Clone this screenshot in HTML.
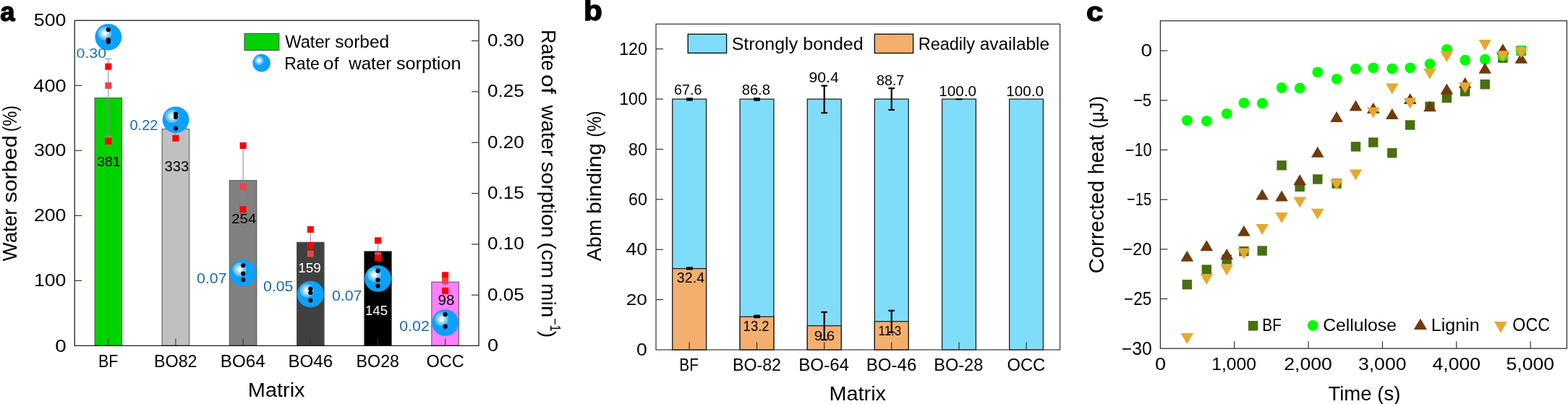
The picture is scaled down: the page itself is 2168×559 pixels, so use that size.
<!DOCTYPE html>
<html><head><meta charset="utf-8"><style>
html,body{margin:0;padding:0;background:#fff;overflow:hidden;}
svg{display:block;}
text{font-family:"Liberation Sans", Arial, sans-serif;white-space:pre;}
</style></head><body>
<svg width="2168" height="559" viewBox="0 0 2168 559">
<defs>
<radialGradient id="hl" cx="0.5" cy="0.5" r="0.5">
<stop offset="0" stop-color="#ffffff"/>
<stop offset="0.27" stop-color="#f6fcff"/>
<stop offset="0.34" stop-color="#b0e0ff"/>
<stop offset="0.58" stop-color="#a0d9ff"/>
<stop offset="0.65" stop-color="#68c4ff"/>
<stop offset="0.90" stop-color="#5cbeff"/>
<stop offset="1" stop-color="#0CA0FF"/>
</radialGradient>
</defs>
<rect width="2168" height="559" fill="#fff"/>
<rect x="131.00" y="135.40" width="37.60" height="342.90" fill="#00D200" stroke="#555" stroke-width="1"/>
<rect x="224.10" y="178.60" width="37.60" height="299.70" fill="#C0C0C0" stroke="#555" stroke-width="1"/>
<rect x="317.30" y="249.70" width="37.60" height="228.60" fill="#808080" stroke="#555" stroke-width="1"/>
<rect x="410.50" y="335.20" width="37.60" height="143.10" fill="#404040" stroke="#555" stroke-width="1"/>
<rect x="503.70" y="347.80" width="37.60" height="130.50" fill="#000000" stroke="#555" stroke-width="1"/>
<rect x="596.80" y="390.10" width="37.60" height="88.20" fill="#FF80FF" stroke="#555" stroke-width="1"/>
<line x1="149.8" y1="478.3" x2="149.8" y2="468.3" stroke="#333" stroke-width="1"/>
<line x1="242.9" y1="478.3" x2="242.9" y2="468.3" stroke="#333" stroke-width="1"/>
<line x1="336.1" y1="478.3" x2="336.1" y2="468.3" stroke="#333" stroke-width="1"/>
<line x1="429.3" y1="478.3" x2="429.3" y2="468.3" stroke="#333" stroke-width="1"/>
<line x1="522.5" y1="478.3" x2="522.5" y2="468.3" stroke="#333" stroke-width="1"/>
<line x1="615.6" y1="478.3" x2="615.6" y2="468.3" stroke="#333" stroke-width="1"/>
<line x1="149.8" y1="81.5" x2="149.8" y2="188.7" stroke="#888" stroke-width="1"/>
<line x1="145.3" y1="81.5" x2="154.3" y2="81.5" stroke="#999" stroke-width="1.2"/>
<line x1="145.3" y1="188.7" x2="154.3" y2="188.7" stroke="#999" stroke-width="1.2"/>
<line x1="242.9" y1="160" x2="242.9" y2="191" stroke="#888" stroke-width="1"/>
<line x1="336.1" y1="201.5" x2="336.1" y2="289.8" stroke="#888" stroke-width="1"/>
<line x1="429.3" y1="317.5" x2="429.3" y2="339.5" stroke="#888" stroke-width="1"/>
<line x1="522.5" y1="332.8" x2="522.5" y2="357" stroke="#888" stroke-width="1"/>
<line x1="615.6" y1="380" x2="615.6" y2="402.4" stroke="#888" stroke-width="1"/>
<rect x="145.30" y="87.60" width="9" height="9" fill="#FF0000"/>
<rect x="145.30" y="113.90" width="9" height="9" fill="#EC4444"/>
<rect x="145.30" y="190.90" width="9" height="9" fill="#FF0000"/>
<rect x="238.40" y="186.80" width="9" height="9" fill="#FF0000"/>
<rect x="331.60" y="197.00" width="9" height="9" fill="#FF0000"/>
<rect x="331.60" y="253.90" width="9" height="9" fill="#EC4444"/>
<rect x="331.60" y="285.30" width="9" height="9" fill="#FF0000"/>
<rect x="424.80" y="313.00" width="9" height="9" fill="#FF0000"/>
<rect x="424.80" y="335.00" width="9" height="9" fill="#FF0000"/>
<rect x="424.80" y="346.60" width="9" height="9" fill="#EC4444"/>
<rect x="518.00" y="328.30" width="9" height="9" fill="#FF0000"/>
<rect x="518.00" y="349.00" width="9" height="9" fill="#EC4444"/>
<rect x="518.00" y="352.60" width="9" height="9" fill="#FF0000"/>
<rect x="611.10" y="376.30" width="9" height="9" fill="#FF0000"/>
<rect x="611.10" y="384.10" width="9" height="9" fill="#EC4444"/>
<rect x="611.10" y="397.90" width="9" height="9" fill="#FF0000"/>
<circle cx="149.8" cy="51.3" r="18.4" fill="#0CA0FF"/><circle cx="144.74" cy="46.24" r="9.94" fill="url(#hl)"/>
<circle cx="149.8" cy="41.0" r="3.1" fill="#000"/>
<circle cx="149.8" cy="55.2" r="3.1" fill="#000"/>
<circle cx="149.8" cy="57.8" r="3.1" fill="#000"/>
<circle cx="243.0" cy="165.8" r="18.4" fill="#0CA0FF"/><circle cx="237.94" cy="160.74" r="9.94" fill="url(#hl)"/>
<circle cx="243.0" cy="157.7" r="3.1" fill="#000"/>
<circle cx="243.0" cy="162.0" r="3.1" fill="#000"/>
<circle cx="243.0" cy="177.6" r="3.1" fill="#000"/>
<circle cx="336.2" cy="377.9" r="18.4" fill="#0CA0FF"/><circle cx="331.14" cy="372.84" r="9.94" fill="url(#hl)"/>
<circle cx="336.2" cy="367.3" r="3.1" fill="#000"/>
<circle cx="336.2" cy="378.6" r="3.1" fill="#000"/>
<circle cx="336.2" cy="387.1" r="3.1" fill="#000"/>
<circle cx="429.3" cy="407.1" r="18.4" fill="#0CA0FF"/><circle cx="424.24" cy="402.04" r="9.94" fill="url(#hl)"/>
<circle cx="429.3" cy="399.7" r="3.1" fill="#000"/>
<circle cx="429.3" cy="405.0" r="3.1" fill="#000"/>
<circle cx="429.3" cy="415.6" r="3.1" fill="#000"/>
<circle cx="522.5" cy="385.4" r="18.4" fill="#0CA0FF"/><circle cx="517.44" cy="380.34" r="9.94" fill="url(#hl)"/>
<circle cx="522.5" cy="374.7" r="3.1" fill="#000"/>
<circle cx="522.5" cy="387.3" r="3.1" fill="#000"/>
<circle cx="522.5" cy="395.7" r="3.1" fill="#000"/>
<circle cx="615.6" cy="446.6" r="18.4" fill="#0CA0FF"/><circle cx="610.54" cy="441.54" r="9.94" fill="url(#hl)"/>
<circle cx="615.6" cy="435.0" r="3.1" fill="#000"/>
<circle cx="615.6" cy="451.7" r="3.1" fill="#000"/>
<rect x="103.2" y="28.3" width="558.8" height="450.0" fill="none" stroke="#111" stroke-width="1.2"/>
<line x1="103.2" y1="388.30" x2="113.2" y2="388.30" stroke="#333" stroke-width="1.2"/>
<line x1="103.2" y1="298.30" x2="113.2" y2="298.30" stroke="#333" stroke-width="1.2"/>
<line x1="103.2" y1="208.30" x2="113.2" y2="208.30" stroke="#333" stroke-width="1.2"/>
<line x1="103.2" y1="118.30" x2="113.2" y2="118.30" stroke="#333" stroke-width="1.2"/>
<line x1="662.0" y1="408.25" x2="652.0" y2="408.25" stroke="#333" stroke-width="1.2"/>
<line x1="662.0" y1="337.90" x2="652.0" y2="337.90" stroke="#333" stroke-width="1.2"/>
<line x1="662.0" y1="267.55" x2="652.0" y2="267.55" stroke="#333" stroke-width="1.2"/>
<line x1="662.0" y1="197.20" x2="652.0" y2="197.20" stroke="#333" stroke-width="1.2"/>
<line x1="662.0" y1="126.85" x2="652.0" y2="126.85" stroke="#333" stroke-width="1.2"/>
<line x1="662.0" y1="56.50" x2="652.0" y2="56.50" stroke="#333" stroke-width="1.2"/>
<rect x="338" y="46.4" width="47.8" height="23.2" fill="#00D200" stroke="#555" stroke-width="1.2"/>
<circle cx="361.6" cy="87.1" r="12.3" fill="#0CA0FF"/><circle cx="358.22" cy="83.72" r="6.64" fill="url(#hl)"/>
<rect x="929.70" y="137.10" width="46.8" height="346.90" fill="#80DDFA" stroke="#222" stroke-width="1.3"/>
<rect x="929.70" y="371.60" width="46.8" height="112.40" fill="#F4AF6E" stroke="#222" stroke-width="1.3"/>
<rect x="1023.10" y="137.10" width="46.8" height="346.90" fill="#80DDFA" stroke="#222" stroke-width="1.3"/>
<rect x="1023.10" y="438.21" width="46.8" height="45.79" fill="#F4AF6E" stroke="#222" stroke-width="1.3"/>
<rect x="1116.30" y="137.10" width="46.8" height="346.90" fill="#80DDFA" stroke="#222" stroke-width="1.3"/>
<rect x="1116.30" y="450.70" width="46.8" height="33.30" fill="#F4AF6E" stroke="#222" stroke-width="1.3"/>
<rect x="1209.30" y="137.10" width="46.8" height="346.90" fill="#80DDFA" stroke="#222" stroke-width="1.3"/>
<rect x="1209.30" y="444.80" width="46.8" height="39.20" fill="#F4AF6E" stroke="#222" stroke-width="1.3"/>
<rect x="1302.60" y="137.10" width="46.8" height="346.90" fill="#80DDFA" stroke="#222" stroke-width="1.3"/>
<rect x="1395.60" y="137.10" width="46.8" height="346.90" fill="#80DDFA" stroke="#222" stroke-width="1.3"/>
<line x1="953.1" y1="484.0" x2="953.1" y2="473.4" stroke="#333" stroke-width="1.2"/>
<line x1="1046.5" y1="484.0" x2="1046.5" y2="473.4" stroke="#333" stroke-width="1.2"/>
<line x1="1139.7" y1="484.0" x2="1139.7" y2="473.4" stroke="#333" stroke-width="1.2"/>
<line x1="1232.7" y1="484.0" x2="1232.7" y2="473.4" stroke="#333" stroke-width="1.2"/>
<line x1="1326.0" y1="484.0" x2="1326.0" y2="473.4" stroke="#333" stroke-width="1.2"/>
<line x1="1419.0" y1="484.0" x2="1419.0" y2="473.4" stroke="#333" stroke-width="1.2"/>
<rect x="949.10" y="135.20" width="8.8" height="4.4" fill="#000"/>
<rect x="1042.10" y="135.10" width="8.8" height="4.6" fill="#000"/>
<rect x="1321.60" y="136.30" width="8.8" height="2.0" fill="#000"/>
<rect x="949.10" y="369.30" width="8.8" height="4.2" fill="#000"/>
<rect x="1042.10" y="435.60" width="8.8" height="4.6" fill="#000"/>
<line x1="1139.7" y1="118.6" x2="1139.7" y2="156.1" stroke="#000" stroke-width="2.2"/>
<line x1="1135.4" y1="118.6" x2="1144.0" y2="118.6" stroke="#000" stroke-width="2.2"/>
<line x1="1135.4" y1="156.1" x2="1144.0" y2="156.1" stroke="#000" stroke-width="2.2"/>
<line x1="1232.7" y1="122.2" x2="1232.7" y2="152.0" stroke="#000" stroke-width="2.2"/>
<line x1="1228.4" y1="122.2" x2="1237.0" y2="122.2" stroke="#000" stroke-width="2.2"/>
<line x1="1228.4" y1="152.0" x2="1237.0" y2="152.0" stroke="#000" stroke-width="2.2"/>
<line x1="1139.7" y1="431.9" x2="1139.7" y2="470.1" stroke="#000" stroke-width="2.2"/>
<line x1="1135.4" y1="431.9" x2="1144.0" y2="431.9" stroke="#000" stroke-width="2.2"/>
<line x1="1135.4" y1="470.1" x2="1144.0" y2="470.1" stroke="#000" stroke-width="2.2"/>
<line x1="1232.7" y1="429.8" x2="1232.7" y2="459.8" stroke="#000" stroke-width="2.2"/>
<line x1="1228.4" y1="429.8" x2="1237.0" y2="429.8" stroke="#000" stroke-width="2.2"/>
<line x1="1228.4" y1="459.8" x2="1237.0" y2="459.8" stroke="#000" stroke-width="2.2"/>
<rect x="907.0" y="33.3" width="558.5999999999999" height="450.7" fill="none" stroke="#444" stroke-width="1.3"/>
<line x1="907.0" y1="414.62" x2="917.0" y2="414.62" stroke="#333" stroke-width="1.2"/>
<line x1="907.0" y1="345.24" x2="917.0" y2="345.24" stroke="#333" stroke-width="1.2"/>
<line x1="907.0" y1="275.86" x2="917.0" y2="275.86" stroke="#333" stroke-width="1.2"/>
<line x1="907.0" y1="206.48" x2="917.0" y2="206.48" stroke="#333" stroke-width="1.2"/>
<line x1="907.0" y1="137.10" x2="917.0" y2="137.10" stroke="#333" stroke-width="1.2"/>
<line x1="907.0" y1="67.72" x2="917.0" y2="67.72" stroke="#333" stroke-width="1.2"/>
<rect x="951.2" y="47.3" width="53.4" height="26.1" fill="#80DDFA" stroke="#111" stroke-width="1.4"/>
<rect x="1209.3" y="47.2" width="53.3" height="26.3" fill="#F4AF6E" stroke="#111" stroke-width="1.4"/>
<rect x="1634.60" y="387.00" width="13.4" height="13.4" fill="#476F10"/>
<rect x="1661.60" y="366.40" width="13.4" height="13.4" fill="#476F10"/>
<rect x="1689.50" y="352.30" width="13.4" height="13.4" fill="#476F10"/>
<rect x="1713.20" y="341.00" width="13.4" height="13.4" fill="#476F10"/>
<rect x="1738.50" y="340.30" width="13.4" height="13.4" fill="#476F10"/>
<rect x="1765.40" y="222.10" width="13.4" height="13.4" fill="#476F10"/>
<rect x="1790.50" y="251.70" width="13.4" height="13.4" fill="#476F10"/>
<rect x="1815.10" y="241.30" width="13.4" height="13.4" fill="#476F10"/>
<rect x="1841.40" y="247.30" width="13.4" height="13.4" fill="#476F10"/>
<rect x="1867.80" y="196.20" width="13.4" height="13.4" fill="#476F10"/>
<rect x="1892.10" y="190.30" width="13.4" height="13.4" fill="#476F10"/>
<rect x="1918.10" y="205.00" width="13.4" height="13.4" fill="#476F10"/>
<rect x="1943.00" y="166.30" width="13.4" height="13.4" fill="#476F10"/>
<rect x="1970.30" y="140.70" width="13.4" height="13.4" fill="#476F10"/>
<rect x="1993.70" y="128.80" width="13.4" height="13.4" fill="#476F10"/>
<rect x="2019.00" y="119.90" width="13.4" height="13.4" fill="#476F10"/>
<rect x="2046.50" y="110.00" width="13.4" height="13.4" fill="#476F10"/>
<rect x="2071.20" y="73.50" width="13.4" height="13.4" fill="#476F10"/>
<rect x="2096.60" y="63.40" width="13.4" height="13.4" fill="#476F10"/>
<circle cx="1641.3" cy="166.6" r="7.4" fill="#00FF00"/>
<circle cx="1668.3" cy="167.4" r="7.4" fill="#00FF00"/>
<circle cx="1696.2" cy="157.3" r="7.4" fill="#00FF00"/>
<circle cx="1719.9" cy="142.3" r="7.4" fill="#00FF00"/>
<circle cx="1745.2" cy="142.9" r="7.4" fill="#00FF00"/>
<circle cx="1772.1" cy="121.5" r="7.4" fill="#00FF00"/>
<circle cx="1797.2" cy="121.9" r="7.4" fill="#00FF00"/>
<circle cx="1821.8" cy="99.8" r="7.4" fill="#00FF00"/>
<circle cx="1848.1" cy="109.3" r="7.4" fill="#00FF00"/>
<circle cx="1874.5" cy="95.5" r="7.4" fill="#00FF00"/>
<circle cx="1898.8" cy="93.8" r="7.4" fill="#00FF00"/>
<circle cx="1924.8" cy="95.1" r="7.4" fill="#00FF00"/>
<circle cx="1949.7" cy="93.8" r="7.4" fill="#00FF00"/>
<circle cx="1977.0" cy="88.5" r="7.4" fill="#00FF00"/>
<circle cx="2000.4" cy="68.4" r="7.4" fill="#00FF00"/>
<circle cx="2025.7" cy="83.2" r="7.4" fill="#00FF00"/>
<circle cx="2053.2" cy="82.2" r="7.4" fill="#00FF00"/>
<circle cx="2077.9" cy="77.0" r="7.4" fill="#00FF00"/>
<circle cx="2103.3" cy="69.9" r="7.4" fill="#00FF00"/>
<path d="M1641.30,346.80 L1650.10,361.80 L1632.50,361.80Z" fill="#703A0C"/>
<path d="M1668.30,332.20 L1677.10,347.20 L1659.50,347.20Z" fill="#703A0C"/>
<path d="M1696.20,344.00 L1705.00,359.00 L1687.40,359.00Z" fill="#703A0C"/>
<path d="M1719.90,311.80 L1728.70,326.80 L1711.10,326.80Z" fill="#703A0C"/>
<path d="M1745.20,261.50 L1754.00,276.50 L1736.40,276.50Z" fill="#703A0C"/>
<path d="M1772.10,263.40 L1780.90,278.40 L1763.30,278.40Z" fill="#703A0C"/>
<path d="M1797.20,241.20 L1806.00,256.20 L1788.40,256.20Z" fill="#703A0C"/>
<path d="M1821.80,202.70 L1830.60,217.70 L1813.00,217.70Z" fill="#703A0C"/>
<path d="M1848.10,154.00 L1856.90,169.00 L1839.30,169.00Z" fill="#703A0C"/>
<path d="M1874.50,138.50 L1883.30,153.50 L1865.70,153.50Z" fill="#703A0C"/>
<path d="M1898.80,141.90 L1907.60,156.90 L1890.00,156.90Z" fill="#703A0C"/>
<path d="M1924.80,149.90 L1933.60,164.90 L1916.00,164.90Z" fill="#703A0C"/>
<path d="M1949.70,129.00 L1958.50,144.00 L1940.90,144.00Z" fill="#703A0C"/>
<path d="M1977.00,139.20 L1985.80,154.20 L1968.20,154.20Z" fill="#703A0C"/>
<path d="M2000.40,115.60 L2009.20,130.60 L1991.60,130.60Z" fill="#703A0C"/>
<path d="M2025.70,107.00 L2034.50,122.00 L2016.90,122.00Z" fill="#703A0C"/>
<path d="M2053.20,86.70 L2062.00,101.70 L2044.40,101.70Z" fill="#703A0C"/>
<path d="M2077.90,60.30 L2086.70,75.30 L2069.10,75.30Z" fill="#703A0C"/>
<path d="M2103.30,72.70 L2112.10,87.70 L2094.50,87.70Z" fill="#703A0C"/>
<path d="M1632.50,460.90 L1650.10,460.90 L1641.30,475.90Z" fill="#E6A92E"/>
<path d="M1659.50,379.00 L1677.10,379.00 L1668.30,394.00Z" fill="#E6A92E"/>
<path d="M1687.40,366.20 L1705.00,366.20 L1696.20,381.20Z" fill="#E6A92E"/>
<path d="M1711.10,343.60 L1728.70,343.60 L1719.90,358.60Z" fill="#E6A92E"/>
<path d="M1736.40,310.00 L1754.00,310.00 L1745.20,325.00Z" fill="#E6A92E"/>
<path d="M1763.30,294.10 L1780.90,294.10 L1772.10,309.10Z" fill="#E6A92E"/>
<path d="M1788.40,272.60 L1806.00,272.60 L1797.20,287.60Z" fill="#E6A92E"/>
<path d="M1813.00,288.70 L1830.60,288.70 L1821.80,303.70Z" fill="#E6A92E"/>
<path d="M1839.30,247.90 L1856.90,247.90 L1848.10,262.90Z" fill="#E6A92E"/>
<path d="M1865.70,234.50 L1883.30,234.50 L1874.50,249.50Z" fill="#E6A92E"/>
<path d="M1890.00,148.40 L1907.60,148.40 L1898.80,163.40Z" fill="#E6A92E"/>
<path d="M1916.00,115.50 L1933.60,115.50 L1924.80,130.50Z" fill="#E6A92E"/>
<path d="M1940.90,135.50 L1958.50,135.50 L1949.70,150.50Z" fill="#E6A92E"/>
<path d="M1968.20,94.80 L1985.80,94.80 L1977.00,109.80Z" fill="#E6A92E"/>
<path d="M1991.60,71.10 L2009.20,71.10 L2000.40,86.10Z" fill="#E6A92E"/>
<path d="M2016.90,114.10 L2034.50,114.10 L2025.70,129.10Z" fill="#E6A92E"/>
<path d="M2044.40,55.00 L2062.00,55.00 L2053.20,70.00Z" fill="#E6A92E"/>
<path d="M2069.10,70.20 L2086.70,70.20 L2077.90,85.20Z" fill="#E6A92E"/>
<path d="M2094.50,65.20 L2112.10,65.20 L2103.30,80.20Z" fill="#E6A92E"/>
<rect x="1604.4" y="28.8" width="562.0" height="453.4" fill="none" stroke="#333" stroke-width="1.3"/>
<line x1="1604.4" y1="70.10" x2="1614.4" y2="70.10" stroke="#333" stroke-width="1.2"/>
<line x1="1604.4" y1="138.78" x2="1614.4" y2="138.78" stroke="#333" stroke-width="1.2"/>
<line x1="1604.4" y1="207.47" x2="1614.4" y2="207.47" stroke="#333" stroke-width="1.2"/>
<line x1="1604.4" y1="276.15" x2="1614.4" y2="276.15" stroke="#333" stroke-width="1.2"/>
<line x1="1604.4" y1="344.84" x2="1614.4" y2="344.84" stroke="#333" stroke-width="1.2"/>
<line x1="1604.4" y1="413.52" x2="1614.4" y2="413.52" stroke="#333" stroke-width="1.2"/>
<line x1="1706.75" y1="482.2" x2="1706.75" y2="472.2" stroke="#333" stroke-width="1.2"/>
<line x1="1809.10" y1="482.2" x2="1809.10" y2="472.2" stroke="#333" stroke-width="1.2"/>
<line x1="1911.45" y1="482.2" x2="1911.45" y2="472.2" stroke="#333" stroke-width="1.2"/>
<line x1="2013.80" y1="482.2" x2="2013.80" y2="472.2" stroke="#333" stroke-width="1.2"/>
<line x1="2116.15" y1="482.2" x2="2116.15" y2="472.2" stroke="#333" stroke-width="1.2"/>
<rect x="1725.9" y="444.0" width="13.4" height="13.5" fill="#476F10"/>
<circle cx="1815.2" cy="450.3" r="7.4" fill="#00FF00"/>
<path d="M1963.9,440.7 L1973.0,456.1 L1954.7,456.1Z" fill="#703A0C"/>
<path d="M2066.0,445.1 L2083.9,445.1 L2074.95,460.8Z" fill="#E6A92E"/>
<text transform="translate(0.34,28.80) scale(0.9727,1)" font-size="37.40" font-weight="bold" stroke="#000" stroke-width="1.4" fill="#000">a</text>
<text transform="translate(46.79,36.20) scale(1.0998,1)" font-size="24.29" fill="#000">500</text>
<text transform="translate(46.32,126.50) scale(1.0972,1)" font-size="24.71" fill="#000">400</text>
<text transform="translate(46.89,216.40) scale(1.0998,1)" font-size="24.29" fill="#000">300</text>
<text transform="translate(46.89,306.40) scale(1.0998,1)" font-size="24.29" fill="#000">200</text>
<text transform="translate(46.89,396.40) scale(1.0998,1)" font-size="24.29" fill="#000">100</text>
<text transform="translate(76.16,486.60) scale(1.1497,1)" font-size="24.14" fill="#000">0</text>
<text transform="translate(674.12,64.00) scale(1.0804,1)" font-size="24.14" fill="#000">0.30</text>
<text transform="translate(674.12,134.35) scale(1.0804,1)" font-size="24.14" fill="#000">0.25</text>
<text transform="translate(674.12,204.70) scale(1.0804,1)" font-size="24.14" fill="#000">0.20</text>
<text transform="translate(674.12,275.05) scale(1.0804,1)" font-size="24.14" fill="#000">0.15</text>
<text transform="translate(674.12,345.40) scale(1.0804,1)" font-size="24.14" fill="#000">0.10</text>
<text transform="translate(674.12,415.75) scale(1.0804,1)" font-size="24.14" fill="#000">0.05</text>
<text transform="translate(673.98,486.20) scale(1.1237,1)" font-size="24.14" fill="#000">0</text>
<text transform="translate(135.92,508.10) scale(0.9082,1)" font-size="23.56" fill="#000">BF</text>
<text transform="translate(212.95,508.10) scale(0.9725,1)" font-size="24.00" fill="#000">BO82</text>
<text transform="translate(304.79,508.10) scale(1.0068,1)" font-size="24.00" fill="#000">BO64</text>
<text transform="translate(398.38,508.10) scale(1.0086,1)" font-size="24.00" fill="#000">BO46</text>
<text transform="translate(492.56,508.10) scale(0.9691,1)" font-size="24.00" fill="#000">BO28</text>
<text transform="translate(589.52,508.10) scale(0.9786,1)" font-size="24.00" fill="#000">OCC</text>
<text transform="translate(342.79,548.50) scale(1.0208,1)" font-size="28.36" fill="#000">Matrix</text>
<text transform="translate(23.20,361.42) rotate(-90) scale(1.0301,1)" font-size="26.91" fill="#000">Water</text>
<text transform="translate(23.20,280.59) rotate(-90) scale(1.1327,1)" font-size="26.91" fill="#000">sorbed</text>
<text transform="translate(23.20,182.26) rotate(-90) scale(0.8659,1)" font-size="26.91" fill="#000">(%)</text>
<text transform="translate(134.27,229.50) scale(1.0071,1)" font-size="19.29" fill="#000">381</text>
<text transform="translate(227.54,236.80) scale(1.0079,1)" font-size="20.00" fill="#000">333</text>
<text transform="translate(320.18,309.40) scale(1.0631,1)" font-size="19.26" fill="#000">254</text>
<text transform="translate(412.28,376.50) scale(1.0285,1)" font-size="18.43" fill="#fff">159</text>
<text transform="translate(505.00,436.20) scale(0.9711,1)" font-size="19.20" fill="#fff">145</text>
<text transform="translate(605.56,421.80) scale(1.0545,1)" font-size="19.43" fill="#000">98</text>
<text transform="translate(105.50,79.50) scale(1.1338,1)" font-size="18.86" fill="#1A6CAE">0.30</text>
<text transform="translate(179.55,180.30) scale(0.9746,1)" font-size="20.43" fill="#1A6CAE">0.22</text>
<text transform="translate(272.10,391.80) scale(1.0704,1)" font-size="19.86" fill="#1A6CAE">0.07</text>
<text transform="translate(364.00,402.70) scale(1.0894,1)" font-size="19.57" fill="#1A6CAE">0.05</text>
<text transform="translate(458.90,416.30) scale(1.1049,1)" font-size="19.29" fill="#1A6CAE">0.07</text>
<text transform="translate(552.20,458.10) scale(1.0836,1)" font-size="19.71" fill="#1A6CAE">0.02</text>
<text transform="translate(394.20,66.30) scale(0.9932,1)" font-size="23.85" fill="#000">Water</text>
<text transform="translate(463.29,66.30) scale(1.0259,1)" font-size="23.85" fill="#000">sorbed</text>
<text transform="translate(393.18,95.90) scale(0.9372,1)" font-size="24.59" fill="#000">Rate</text>
<text transform="translate(447.12,95.90) scale(1.0529,1)" font-size="24.59" fill="#000">of</text>
<text transform="translate(482.20,95.90) scale(0.9829,1)" font-size="24.59" fill="#000">water</text>
<text transform="translate(547.97,95.90) scale(1.0232,1)" font-size="24.59" fill="#000">sorption</text>
<text transform="translate(748.60,40.94) rotate(90) scale(0.9488,1)" font-size="28.54" fill="#000">Rate</text>
<text transform="translate(748.60,103.05) rotate(90) scale(1.1316,1)" font-size="28.54" fill="#000">of</text>
<text transform="translate(748.60,145.40) rotate(90) scale(1.0213,1)" font-size="28.54" fill="#000">water</text>
<text transform="translate(748.60,223.84) rotate(90) scale(1.0353,1)" font-size="28.54" fill="#000">sorption</text>
<text transform="translate(748.60,335.33) rotate(90) scale(1.0507,1)" font-size="28.54" fill="#000">(cm</text>
<text transform="translate(748.60,392.03) rotate(90) scale(1.0329,1)" font-size="28.54" fill="#000">min</text>
<text transform="translate(761.20,440.20) rotate(90) scale(0.8279,1)" font-size="19.35" fill="#000">−1</text>
<text transform="translate(748.60,457.76) rotate(90) scale(1.0060,1)" font-size="28.54" fill="#000">)</text>
<text transform="translate(807.08,28.30) scale(1.1138,1)" font-size="37.93" font-weight="bold" stroke="#000" stroke-width="1.4" fill="#000">b</text>
<text transform="translate(856.16,75.90) scale(0.9564,1)" font-size="24.29" fill="#000">120</text>
<text transform="translate(856.16,145.20) scale(0.9564,1)" font-size="24.29" fill="#000">100</text>
<text transform="translate(869.03,214.58) scale(0.9564,1)" font-size="24.29" fill="#000">80</text>
<text transform="translate(869.03,283.96) scale(0.9564,1)" font-size="24.29" fill="#000">60</text>
<text transform="translate(865.44,353.30) scale(1.1232,1)" font-size="23.57" fill="#000">40</text>
<text transform="translate(865.69,422.20) scale(1.1410,1)" font-size="23.00" fill="#000">20</text>
<text transform="translate(879.91,491.50) scale(1.1043,1)" font-size="24.00" fill="#000">0</text>
<text transform="translate(939.27,513.10) scale(0.8825,1)" font-size="23.56" fill="#000">BF</text>
<text transform="translate(1012.97,513.10) scale(0.9653,1)" font-size="24.00" fill="#000">BO-82</text>
<text transform="translate(1104.29,513.10) scale(1.0045,1)" font-size="24.00" fill="#000">BO-64</text>
<text transform="translate(1197.69,513.10) scale(1.0045,1)" font-size="24.00" fill="#000">BO-46</text>
<text transform="translate(1291.34,513.10) scale(0.9789,1)" font-size="24.00" fill="#000">BO-28</text>
<text transform="translate(1392.51,513.10) scale(0.9883,1)" font-size="24.00" fill="#000">OCC</text>
<text transform="translate(1146.60,553.70) scale(1.0206,1)" font-size="28.22" fill="#000">Matrix</text>
<text transform="translate(831.40,361.52) rotate(-90) scale(1.0010,1)" font-size="28.10" fill="#000">Abm</text>
<text transform="translate(831.40,296.12) rotate(-90) scale(1.0809,1)" font-size="28.10" fill="#000">binding</text>
<text transform="translate(831.40,189.87) rotate(-90) scale(0.8342,1)" font-size="28.10" fill="#000">(%)</text>
<text transform="translate(1011.66,68.70) scale(1.0453,1)" font-size="23.86" fill="#000">Strongly</text>
<text transform="translate(1110.23,68.70) scale(1.0478,1)" font-size="23.86" fill="#000">bonded</text>
<text transform="translate(1269.74,68.70) scale(0.9842,1)" font-size="23.85" fill="#000">Readily</text>
<text transform="translate(1354.78,68.70) scale(1.0224,1)" font-size="23.85" fill="#000">available</text>
<text transform="translate(932.01,131.30) scale(0.9663,1)" font-size="20.43" fill="#000">67.6</text>
<text transform="translate(1025.66,131.00) scale(1.0094,1)" font-size="20.00" fill="#000">86.8</text>
<text transform="translate(1118.53,114.00) scale(1.0434,1)" font-size="20.29" fill="#000">90.4</text>
<text transform="translate(1212.08,117.60) scale(1.0104,1)" font-size="19.43" fill="#000">88.7</text>
<text transform="translate(1298.35,132.50) scale(1.0304,1)" font-size="20.00" fill="#000">100.0</text>
<text transform="translate(1391.35,132.50) scale(1.0304,1)" font-size="20.00" fill="#000">100.0</text>
<text transform="translate(935.86,391.10) scale(1.0107,1)" font-size="19.43" fill="#000">32.4</text>
<text transform="translate(1027.61,457.90) scale(0.9321,1)" font-size="19.86" fill="#000">13.2</text>
<text transform="translate(1125.77,471.30) scale(1.1236,1)" font-size="18.14" fill="#000">9.6</text>
<text transform="translate(1214.53,464.40) scale(0.9481,1)" font-size="17.86" fill="#000">11.3</text>
<text transform="translate(1502.12,28.80) scale(1.1358,1)" font-size="37.02" font-weight="bold" stroke="#000" stroke-width="1.4" fill="#000">c</text>
<text transform="translate(1577.45,77.70) scale(1.1652,1)" font-size="24.00" fill="#000">0</text>
<text transform="translate(1566.89,146.70) scale(0.9081,1)" font-size="24.44" fill="#000">−5</text>
<text transform="translate(1555.82,215.50) scale(0.8705,1)" font-size="24.86" fill="#000">−10</text>
<text transform="translate(1558.10,284.00) scale(0.8140,1)" font-size="24.58" fill="#000">−15</text>
<text transform="translate(1552.11,352.80) scale(0.9889,1)" font-size="24.14" fill="#000">−20</text>
<text transform="translate(1554.08,421.90) scale(0.8923,1)" font-size="25.15" fill="#000">−25</text>
<text transform="translate(1550.77,490.50) scale(0.9930,1)" font-size="24.86" fill="#000">−30</text>
<text transform="translate(1596.88,512.20) scale(1.1304,1)" font-size="24.00" fill="#000">0</text>
<text transform="translate(1775.27,511.80) scale(1.1376,1)" font-size="23.43" fill="#000">2,000</text>
<text transform="translate(1675.25,511.80) scale(1.0548,1)" font-size="23.43" fill="#000">1,000</text>
<text transform="translate(1877.90,511.80) scale(1.1370,1)" font-size="23.43" fill="#000">3,000</text>
<text transform="translate(1980.43,511.80) scale(1.1365,1)" font-size="23.43" fill="#000">4,000</text>
<text transform="translate(2082.59,511.80) scale(1.1337,1)" font-size="23.43" fill="#000">5,000</text>
<text transform="translate(1836.43,553.70) scale(1.0130,1)" font-size="27.20" fill="#000">Time (s)</text>
<text transform="translate(1526.20,378.47) rotate(-90) scale(1.0275,1)" font-size="28.57" fill="#000">Corrected</text>
<text transform="translate(1526.20,240.97) rotate(-90) scale(0.9731,1)" font-size="28.57" fill="#000">heat</text>
<text transform="translate(1526.20,178.02) rotate(-90) scale(0.9093,1)" font-size="28.57" fill="#000">(μJ)</text>
<text transform="translate(1745.26,458.00) scale(0.8596,1)" font-size="24.29" fill="#000">BF</text>
<text transform="translate(1829.26,457.90) scale(1.0301,1)" font-size="24.00" fill="#000">Cellulose</text>
<text transform="translate(1978.71,458.20) scale(1.0321,1)" font-size="24.29" fill="#000">Lignin</text>
<text transform="translate(2091.33,458.40) scale(0.9248,1)" font-size="25.14" fill="#000">OCC</text>

</svg>
</body></html>
